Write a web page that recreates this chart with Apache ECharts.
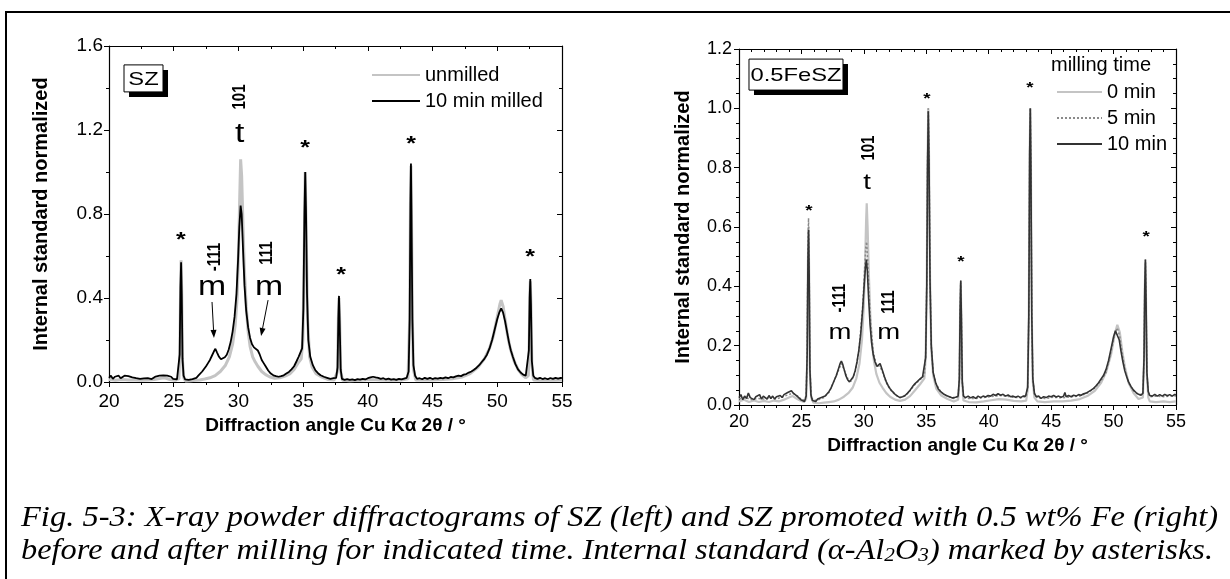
<!DOCTYPE html>
<html><head><meta charset="utf-8">
<script src="https://cdn.jsdelivr.net/npm/echarts@6/dist/echarts.min.js"></script>
<style>html,body{margin:0;padding:0;background:#fff;}#c{width:1230px;height:579px;}</style>
</head><body><div id="c"></div>
<script>
// ---------- DATA (2theta in degrees, internal standard normalized intensity) ----------
const szUnmilled = [[20,.012],[20.5,.008],[21,.012],[21.5,.01],[22,.01],[22.5,.008],[23,.01],[23.5,.012],[24,.018],[24.3,.02],[24.7,.012],[25.1,.008],[25.4,.015],[25.48,.15],[25.53,.45],[25.57,.58],[25.62,.42],[25.68,.1],[25.78,.02],[25.9,.005],[26.3,.006],[26.7,.008],[27.0,.01],[27.4,.014],[27.8,.02],[28.2,.03],[28.6,.05],[29.0,.08],[29.3,.12],[29.55,.18],[29.75,.27],[29.9,.4],[30.0,.6],[30.1,.88],[30.17,1.06],[30.25,.98],[30.35,.75],[30.45,.55],[30.6,.36],[30.75,.24],[30.9,.17],[31.1,.12],[31.3,.095],[31.5,.075],[31.8,.05],[32.1,.035],[32.4,.025],[32.8,.018],[33.2,.02],[33.6,.028],[34.0,.04],[34.3,.06],[34.6,.09],[34.85,.11],[34.98,.2],[35.08,.6],[35.16,1.0],[35.24,.7],[35.34,.3],[35.5,.12],[35.7,.07],[36.0,.04],[36.4,.025],[36.9,.012],[37.4,.01],[37.65,.05],[37.72,.3],[37.77,.4],[37.82,.3],[37.9,.05],[38.05,.008],[38.6,.006],[39.4,.008],[40.2,.012],[41.0,.01],[41.8,.008],[42.6,.01],[43.1,.015],[43.23,.3],[43.29,.85],[43.33,1.03],[43.37,.8],[43.44,.3],[43.52,.06],[43.7,.01],[44.3,.01],[45.0,.01],[45.8,.012],[46.6,.016],[47.3,.024],[47.9,.04],[48.5,.07],[49.0,.11],[49.4,.16],[49.7,.22],[50.0,.31],[50.2,.37],[50.3,.39],[50.45,.36],[50.6,.3],[50.8,.22],[51.0,.16],[51.3,.1],[51.6,.06],[51.9,.035],[52.2,.02],[52.4,.03],[52.47,.2],[52.52,.42],[52.55,.48],[52.6,.37],[52.67,.08],[52.8,.01],[53.2,.008],[53.8,.01],[54.4,.008],[55,.01]];

const szMilled10 = [[20.0,.02],[20.15,.03],[20.3,.015],[20.45,.025],[20.6,.02],[20.75,.03],[20.9,.018],[21.05,.025],[21.2,.03],[21.35,.038],[21.5,.028],[21.65,.033],[21.8,.022],[21.95,.028],[22.1,.018],[22.25,.024],[22.4,.015],[22.55,.022],[22.7,.017],[22.85,.025],[23.0,.018],[23.15,.022],[23.3,.014],[23.45,.02],[23.6,.026],[23.75,.02],[23.9,.03],[24.05,.026],[24.2,.032],[24.35,.025],[24.5,.03],[24.65,.022],[24.8,.025],[24.95,.015],[25.1,.018],[25.25,.012],[25.38,.02],[25.46,.13],[25.52,.45],[25.57,.57],[25.62,.42],[25.68,.11],[25.76,.03],[25.88,.012],[26.0,.018],[26.15,.01],[26.3,.016],[26.45,.014],[26.6,.022],[26.75,.02],[26.9,.03],[27.05,.035],[27.2,.05],[27.35,.058],[27.5,.075],[27.65,.09],[27.8,.105],[27.95,.125],[28.1,.145],[28.22,.158],[28.35,.14],[28.5,.12],[28.65,.108],[28.8,.11],[28.95,.118],[29.1,.13],[29.25,.155],[29.4,.19],[29.55,.24],[29.7,.31],[29.85,.42],[29.97,.58],[30.07,.74],[30.17,.84],[30.25,.8],[30.35,.64],[30.47,.46],[30.6,.34],[30.75,.26],[30.9,.21],[31.05,.18],[31.2,.165],[31.35,.158],[31.5,.15],[31.65,.13],[31.8,.105],[31.95,.09],[32.1,.075],[32.3,.055],[32.5,.04],[32.7,.032],[32.9,.028],[33.1,.025],[33.3,.028],[33.5,.032],[33.7,.04],[33.9,.048],[34.1,.06],[34.3,.075],[34.5,.1],[34.65,.12],[34.8,.125],[34.92,.16],[35.02,.35],[35.1,.8],[35.16,1.0],[35.22,.82],[35.3,.42],[35.4,.2],[35.55,.12],[35.75,.08],[35.95,.055],[36.15,.042],[36.35,.032],[36.6,.025],[36.85,.02],[37.1,.015],[37.35,.018],[37.55,.02],[37.66,.07],[37.72,.3],[37.77,.41],[37.82,.29],[37.9,.06],[38.0,.015],[38.2,.01],[38.4,.014],[38.6,.01],[38.8,.013],[39.0,.009],[39.2,.014],[39.4,.011],[39.6,.015],[39.8,.012],[40.0,.018],[40.2,.022],[40.4,.025],[40.6,.022],[40.8,.02],[41.0,.015],[41.2,.018],[41.4,.012],[41.6,.016],[41.8,.011],[42.0,.014],[42.2,.01],[42.4,.015],[42.6,.012],[42.8,.016],[43.0,.02],[43.15,.05],[43.23,.3],[43.29,.85],[43.33,1.04],[43.37,.8],[43.44,.3],[43.52,.08],[43.65,.03],[43.8,.015],[44.0,.018],[44.2,.013],[44.4,.02],[44.6,.015],[44.8,.02],[45.0,.014],[45.2,.019],[45.4,.016],[45.6,.02],[45.8,.017],[46.0,.022],[46.2,.018],[46.4,.024],[46.6,.022],[46.8,.027],[47.0,.03],[47.2,.028],[47.4,.035],[47.6,.038],[47.8,.045],[48.0,.05],[48.2,.058],[48.4,.068],[48.6,.08],[48.8,.095],[49.0,.11],[49.2,.13],[49.4,.16],[49.6,.2],[49.8,.25],[50.0,.3],[50.15,.33],[50.3,.35],[50.45,.33],[50.6,.29],[50.75,.24],[50.9,.19],[51.05,.15],[51.2,.12],[51.4,.085],[51.6,.06],[51.8,.045],[52.0,.035],[52.2,.03],[52.35,.035],[52.44,.15],[52.5,.4],[52.55,.49],[52.6,.37],[52.67,.1],[52.78,.03],[52.9,.02],[53.1,.015],[53.3,.02],[53.5,.014],[53.7,.018],[53.9,.013],[54.1,.019],[54.3,.015],[54.5,.02],[54.7,.016],[54.9,.02],[55.0,.018]];

const fe0min = [[20,.012],[20.4,.018],[20.8,.01],[21.2,.015],[21.6,.01],[22,.014],[22.4,.01],[22.8,.015],[23.2,.012],[23.6,.018],[24.0,.025],[24.3,.03],[24.6,.022],[24.9,.015],[25.2,.01],[25.38,.02],[25.46,.15],[25.52,.48],[25.57,.6],[25.62,.44],[25.68,.11],[25.78,.025],[25.95,.008],[26.4,.006],[26.8,.008],[27.2,.01],[27.6,.012],[28.0,.018],[28.4,.028],[28.8,.042],[29.1,.058],[29.4,.09],[29.65,.14],[29.85,.22],[30.0,.34],[30.1,.48],[30.18,.62],[30.23,.68],[30.3,.6],[30.4,.44],[30.52,.3],[30.65,.21],[30.8,.15],[31.0,.105],[31.25,.075],[31.5,.058],[31.8,.04],[32.1,.028],[32.5,.018],[32.9,.014],[33.3,.018],[33.7,.03],[34.1,.05],[34.5,.07],[34.85,.09],[34.95,.16],[35.04,.42],[35.1,.82],[35.16,1.0],[35.22,.84],[35.3,.43],[35.4,.19],[35.55,.1],[35.8,.055],[36.2,.032],[36.7,.02],[37.2,.012],[37.55,.018],[37.65,.08],[37.71,.31],[37.76,.41],[37.81,.29],[37.88,.07],[37.98,.015],[38.4,.01],[39.0,.009],[39.6,.012],[40.2,.016],[40.8,.02],[41.4,.018],[42.0,.014],[42.6,.012],[43.0,.015],[43.12,.05],[43.21,.3],[43.28,.85],[43.33,1.0],[43.38,.8],[43.45,.3],[43.53,.08],[43.66,.025],[43.9,.012],[44.5,.01],[45.2,.012],[45.9,.012],[46.6,.015],[47.3,.02],[47.9,.03],[48.5,.048],[49.0,.075],[49.4,.11],[49.8,.17],[50.1,.24],[50.3,.27],[50.5,.245],[50.7,.18],[50.9,.13],[51.2,.075],[51.6,.04],[52.0,.02],[52.35,.025],[52.44,.15],[52.5,.39],[52.55,.48],[52.6,.35],[52.67,.1],[52.78,.025],[52.9,.012],[53.4,.01],[54.0,.012],[54.5,.01],[55.0,.012]];

const fe5min = [[20,.02],[20.5,.025],[21,.018],[21.5,.022],[22,.02],[22.5,.025],[23,.02],[23.5,.028],[24,.035],[24.3,.04],[24.7,.03],[25.1,.015],[25.38,.03],[25.46,.18],[25.52,.52],[25.57,.63],[25.62,.47],[25.68,.13],[25.78,.03],[25.95,.015],[26.4,.018],[26.8,.025],[27.2,.042],[27.6,.08],[27.95,.115],[28.2,.14],[28.45,.115],[28.75,.085],[29.0,.08],[29.3,.11],[29.6,.18],[29.9,.33],[30.05,.45],[30.15,.53],[30.22,.55],[30.3,.49],[30.42,.37],[30.55,.27],[30.75,.18],[31.0,.135],[31.3,.13],[31.5,.11],[31.8,.075],[32.1,.052],[32.5,.035],[32.9,.025],[33.3,.03],[33.7,.048],[34.1,.07],[34.5,.085],[34.85,.1],[34.95,.17],[35.04,.42],[35.1,.82],[35.16,1.0],[35.22,.84],[35.3,.43],[35.4,.2],[35.55,.11],[35.8,.07],[36.2,.042],[36.7,.03],[37.2,.022],[37.55,.028],[37.65,.09],[37.71,.32],[37.76,.42],[37.81,.3],[37.88,.08],[37.98,.025],[38.4,.022],[39.0,.022],[39.6,.025],[40.2,.028],[40.8,.032],[41.4,.03],[42.0,.026],[42.6,.024],[43.0,.028],[43.12,.06],[43.21,.3],[43.28,.85],[43.33,1.0],[43.38,.8],[43.45,.3],[43.53,.09],[43.66,.035],[43.9,.024],[44.5,.022],[45.2,.026],[45.9,.024],[46.6,.028],[47.3,.03],[47.9,.04],[48.5,.058],[49.0,.082],[49.4,.11],[49.8,.18],[50.1,.24],[50.3,.26],[50.5,.23],[50.7,.17],[50.9,.12],[51.2,.075],[51.6,.048],[52.0,.034],[52.35,.038],[52.44,.16],[52.5,.4],[52.55,.49],[52.6,.36],[52.67,.11],[52.78,.04],[52.9,.028],[53.4,.03],[54.0,.028],[54.5,.03],[55.0,.03]];

const fe10min = [[20.0,.025],[20.15,.035],[20.3,.018],[20.45,.03],[20.6,.022],[20.75,.04],[20.9,.025],[21.05,.03],[21.2,.018],[21.35,.028],[21.5,.022],[21.65,.035],[21.8,.02],[21.95,.03],[22.1,.024],[22.25,.02],[22.4,.032],[22.55,.022],[22.7,.03],[22.85,.02],[23.0,.028],[23.15,.024],[23.3,.032],[23.45,.025],[23.6,.035],[23.75,.03],[23.9,.042],[24.05,.038],[24.2,.048],[24.35,.04],[24.5,.038],[24.65,.03],[24.8,.028],[24.95,.018],[25.1,.015],[25.25,.012],[25.38,.03],[25.46,.17],[25.52,.48],[25.57,.59],[25.62,.44],[25.68,.12],[25.76,.035],[25.88,.015],[26.0,.02],[26.15,.012],[26.3,.02],[26.45,.018],[26.6,.025],[26.75,.022],[26.9,.03],[27.05,.035],[27.2,.045],[27.35,.055],[27.5,.07],[27.65,.085],[27.8,.1],[27.95,.12],[28.1,.14],[28.2,.148],[28.3,.138],[28.42,.12],[28.55,.1],[28.7,.085],[28.85,.078],[29.0,.082],[29.15,.095],[29.3,.115],[29.45,.145],[29.6,.185],[29.75,.24],[29.9,.32],[30.02,.4],[30.12,.46],[30.2,.49],[30.28,.45],[30.38,.36],[30.5,.27],[30.62,.21],[30.75,.17],[30.9,.145],[31.05,.13],[31.2,.128],[31.3,.14],[31.38,.13],[31.5,.115],[31.65,.095],[31.8,.078],[31.95,.065],[32.1,.055],[32.3,.045],[32.5,.036],[32.7,.03],[32.9,.025],[33.1,.028],[33.3,.032],[33.5,.04],[33.7,.05],[33.9,.062],[34.1,.072],[34.3,.08],[34.5,.088],[34.7,.095],[34.85,.1],[34.95,.16],[35.04,.4],[35.1,.8],[35.16,.99],[35.22,.82],[35.3,.42],[35.4,.2],[35.55,.11],[35.75,.075],[35.95,.055],[36.15,.045],[36.35,.038],[36.6,.032],[36.85,.028],[37.1,.024],[37.35,.026],[37.55,.03],[37.65,.09],[37.71,.32],[37.76,.42],[37.81,.3],[37.88,.08],[37.98,.03],[38.15,.025],[38.35,.03],[38.55,.024],[38.75,.028],[38.95,.022],[39.15,.03],[39.35,.025],[39.55,.03],[39.75,.027],[39.95,.032],[40.15,.03],[40.35,.036],[40.55,.032],[40.75,.038],[40.95,.033],[41.15,.036],[41.35,.03],[41.55,.034],[41.75,.028],[41.95,.03],[42.15,.026],[42.35,.03],[42.55,.025],[42.75,.03],[42.95,.03],[43.12,.06],[43.21,.3],[43.28,.85],[43.33,1.0],[43.38,.8],[43.45,.3],[43.53,.09],[43.66,.04],[43.8,.028],[44.0,.03],[44.2,.022],[44.4,.028],[44.6,.025],[44.8,.03],[45.0,.028],[45.2,.032],[45.4,.027],[45.6,.03],[45.8,.026],[46.0,.03],[46.1,.042],[46.2,.028],[46.4,.032],[46.6,.028],[46.8,.033],[47.0,.03],[47.2,.035],[47.4,.033],[47.6,.038],[47.8,.04],[48.0,.045],[48.2,.05],[48.4,.056],[48.6,.065],[48.8,.075],[49.0,.088],[49.2,.1],[49.4,.12],[49.6,.15],[49.8,.19],[50.0,.23],[50.15,.25],[50.3,.245],[50.45,.22],[50.6,.18],[50.75,.145],[50.9,.115],[51.05,.095],[51.2,.078],[51.4,.062],[51.6,.05],[51.8,.042],[52.0,.036],[52.2,.033],[52.35,.04],[52.44,.16],[52.5,.4],[52.55,.49],[52.6,.36],[52.67,.11],[52.78,.045],[52.9,.032],[53.1,.03],[53.3,.036],[53.5,.03],[53.7,.035],[53.9,.03],[54.1,.036],[54.3,.031],[54.5,.035],[54.7,.03],[54.9,.036],[55.0,.033]];

// axis ranges / ticks
const xRange = [20, 55];
const xStep = 5;
const szYRange = [0, 1.6];
const szYStep = 0.4;
const feYRange = [0, 1.2];
const feYStep = 0.2;

// text
const xTitle = 'Diffraction angle Cu K\u03b1 2\u03b8 / \u00b0';
const yTitle = 'Internal standard normalized';
const szSeriesNames = ['unmilled', '10 min milled'];
const feSeriesNames = ['0 min', '5 min', '10 min'];
const szTag = 'SZ';
const feTag = '0.5FeSZ';
const feLegendTitle = 'milling time';
const caption1 = 'Fig. 5-3: X-ray powder diffractograms of SZ (left) and SZ promoted with 0.5 wt% Fe (right)';
const caption2Parts = ['before and after milling for indicated time. Internal standard (\u03b1-Al', '2', 'O', '3', ') marked by asterisks.'];

// annotations in data coordinates [x, y]
const szStars = [[25.56,.676],[35.15,1.114],[37.93,.505],[43.34,1.133],[52.53,.595]];
const szPhase = [['t',30.1,1.176],['m',27.96,.448],['m',32.36,.452]];
const szHkl = [['101',30.1,1.357],['-111',28.18,.595],['111',32.21,.614]];
const szArrows = [[27.96,.381,28.11,.21],[32.29,.39,31.75,.219]];
const szTagPos = [21.16, 1.51];
const feStars = [[25.6,.654],[35.05,1.031],[37.77,.482],[43.3,1.068],[52.6,.566]];
const fePhase = [['t',30.25,.748],['m',28.08,.243],['m',32.0,.243]];
const feHkl = [['101',30.4,.866],['-111',28.08,.36],['111',32.0,.347]];
const feTagPos = [20.8, 1.166];

// ---------- CHART ----------
const FONT = 'Liberation Sans';
const SERIF = 'Liberation Serif';
const SX = 1.25; // horizontal stretch of the source figure's lettering
const chart = echarts.init(document.getElementById('c'), null, {renderer: 'canvas'});

function xAxisCfg(grid, top, labelSize, minorSplit, margin, nameGap) {
  return {
    gridIndex: grid, type: 'value', min: xRange[0], max: xRange[1], interval: xStep,
    position: top ? 'top' : 'bottom',
    axisLine: {onZero: false, lineStyle: {color: '#000', width: 1.2}},
    axisTick: {show: true, inside: top, length: 5, lineStyle: {color: '#000', width: 1}},
    minorTick: {show: true, splitNumber: minorSplit, length: 3, lineStyle: {color: '#000', width: 1}},
    axisLabel: {show: !top, fontSize: labelSize, color: '#000', fontFamily: FONT, margin: margin},
    splitLine: {show: false}, minorSplitLine: {show: false},
    name: top ? '' : xTitle, nameLocation: 'middle', nameGap: nameGap,
    nameTextStyle: {fontSize: 19, fontWeight: 'bold', color: '#000', fontFamily: FONT}
  };
}
function yAxisCfg(grid, right, range, step, labelSize, minorSplit, margin, nameGap) {
  return {
    gridIndex: grid, type: 'value', min: range[0], max: range[1], interval: step,
    position: right ? 'right' : 'left',
    axisLine: {show: true, onZero: false, lineStyle: {color: '#000', width: 1.2}},
    axisTick: {show: true, inside: right, length: 5, lineStyle: {color: '#000', width: 1}},
    minorTick: {show: true, splitNumber: minorSplit, length: 3, lineStyle: {color: '#000', width: 1}},
    axisLabel: {show: !right, fontSize: labelSize, color: '#000', fontFamily: FONT, margin: margin,
                formatter: v => v.toFixed(1)},
    splitLine: {show: false}, minorSplitLine: {show: false},
    name: right ? '' : yTitle, nameLocation: 'middle', nameGap: nameGap, nameRotate: 90,
    nameTextStyle: {fontSize: 20, fontWeight: 'bold', color: '#000', fontFamily: FONT}
  };
}
function line(name, data, xi, yi, color, width, type, z) {
  return {name, type: 'line', data, xAxisIndex: xi, yAxisIndex: yi, showSymbol: false, symbol: 'none',
          lineStyle: {color, width, type}, itemStyle: {color}, z, animation: false, clip: true};
}

chart.setOption({
  animation: false,
  backgroundColor: '#fff',
  grid: [
    {left: 109, top: 46, width: 453, height: 336},
    {left: 739, top: 49, width: 437, height: 356}
  ],
  xAxis: [
    xAxisCfg(0, false, 19, 2, 10, 31), xAxisCfg(0, true, 19, 2, 10, 0),
    xAxisCfg(1, false, 18, 5, 8, 31), xAxisCfg(1, true, 18, 5, 8, 0)
  ],
  yAxis: [
    yAxisCfg(0, false, szYRange, szYStep, 19, 2, 6, 58), yAxisCfg(0, true, szYRange, szYStep, 19, 2, 6, 0),
    yAxisCfg(1, false, feYRange, feYStep, 18, 4, 7, 46), yAxisCfg(1, true, feYRange, feYStep, 18, 4, 7, 0)
  ],
  legend: [
    {data: szSeriesNames, orient: 'vertical', left: 366, top: 60, itemWidth: 48, itemHeight: 14, itemGap: 6,
     itemStyle: {opacity: 0, borderWidth: 0},
     textStyle: {fontSize: 20, color: '#000', fontFamily: FONT}, selectedMode: false},
    {data: feSeriesNames, orient: 'vertical', left: 1051, top: 77, itemWidth: 45, itemHeight: 14, itemGap: 6,
     itemStyle: {opacity: 0, borderWidth: 0},
     textStyle: {fontSize: 20, color: '#000', fontFamily: FONT}, selectedMode: false}
  ],
  series: [
    line(szSeriesNames[0], szUnmilled, 0, 0, '#c4c4c4', 3, 'solid', 2),
    line(szSeriesNames[1], szMilled10, 0, 0, '#000', 1.8, 'solid', 3),
    line(feSeriesNames[0], fe0min, 2, 2, '#c4c4c4', 2.2, 'solid', 2),
    line(feSeriesNames[1], fe5min, 2, 2, '#8a8a8a', 1.5, [2, 2], 3),
    line(feSeriesNames[2], fe10min, 2, 2, '#333', 1.6, 'solid', 4)
  ]
});

function px(g, x, y) { return chart.convertToPixel({xAxisIndex: g * 2, yAxisIndex: g * 2}, [x, y]); }

const gfx = [];
// figure frame
gfx.push({type: 'line', shape: {x1: 6, y1: 12, x2: 1230, y2: 12}, style: {stroke: '#000', lineWidth: 2}, silent: true});
gfx.push({type: 'line', shape: {x1: 6, y1: 11, x2: 6, y2: 579}, style: {stroke: '#000', lineWidth: 2}, silent: true});

function txt(p, s, size, bold, rot, sx) {
  return {type: 'text', x: p[0], y: p[1], rotation: rot ? Math.PI / 2 : 0,
          scaleX: rot ? 1 : (sx || 1), scaleY: rot ? (sx || 1) : 1, z: 50,
          style: {text: s, fontSize: size, fontWeight: bold ? 'bold' : 'normal', fontFamily: FONT,
                  fill: '#000', align: 'center', verticalAlign: 'middle'}, silent: true};
}
function arrow(g, a) {
  const p1 = px(g, a[0], a[1]), p2 = px(g, a[2], a[3]);
  const dx = p2[0] - p1[0], dy = p2[1] - p1[1], L = Math.hypot(dx, dy), ux = dx / L, uy = dy / L;
  const hl = 8, hw = 3;
  const bx = p2[0] - ux * hl, by = p2[1] - uy * hl;
  gfx.push({type: 'line', shape: {x1: p1[0], y1: p1[1], x2: bx, y2: by}, style: {stroke: '#000', lineWidth: 1}, z: 50, silent: true});
  gfx.push({type: 'polygon', shape: {points: [[p2[0], p2[1]], [bx - uy * hw, by + ux * hw], [bx + uy * hw, by - ux * hw]]},
            style: {fill: '#000'}, z: 50, silent: true});
}
function tagBox(g, pos, s, w, h, size) {
  const p = px(g, pos[0], pos[1]);
  gfx.push({type: 'rect', shape: {x: p[0] + 5, y: p[1] + 5, width: w, height: h}, style: {fill: '#000'}, z: 40, silent: true});
  gfx.push({type: 'rect', shape: {x: p[0], y: p[1], width: w, height: h}, style: {fill: '#fff', stroke: '#000', lineWidth: 1}, z: 41, silent: true});
  gfx.push(txt([p[0] + w / 2, p[1] + h / 2 + 1], s, size, false, false, SX));
}

szStars.forEach(s => gfx.push(txt(px(0, s[0], s[1]), '*', 20, true, false, SX)));
szPhase.forEach(s => gfx.push(txt(px(0, s[1], s[2]), s[0], 27, false, false, SX)));
szHkl.forEach(s => gfx.push(txt(px(0, s[1], s[2]), s[0], 15, true, true, SX)));
szArrows.forEach(a => arrow(0, a));
tagBox(0, szTagPos, szTag, 39, 27, 19);

feStars.forEach(s => gfx.push(txt(px(1, s[0], s[1]), '*', 15, true, false, SX)));
fePhase.forEach(s => gfx.push(txt(px(1, s[1], s[2]), s[0], 22, false, false, SX)));
feHkl.forEach(s => gfx.push(txt(px(1, s[1], s[2]), s[0], 15, true, true, SX)));
tagBox(1, feTagPos, feTag, 94, 31, 19);

// legend title for right panel
gfx.push({type: 'text', x: 1051, y: 65, z: 50, silent: true,
          style: {text: feLegendTitle, fontSize: 20, fontFamily: FONT, fill: '#000', align: 'left', verticalAlign: 'middle'}});

// caption (justified to the figure width by horizontal scaling)
const cv = document.createElement('canvas').getContext('2d');
const capFont = 29, subFont = 19;
cv.font = 'italic ' + capFont + 'px ' + SERIF;
const w1 = cv.measureText(caption1).width;
let w2 = cv.measureText(caption2Parts[0] + caption2Parts[2] + caption2Parts[4]).width;
cv.font = 'italic ' + subFont + 'px ' + SERIF;
w2 += cv.measureText(caption2Parts[1] + caption2Parts[3]).width;
const capStyle = {fontSize: capFont, fontStyle: 'italic', fontFamily: SERIF, fill: '#000', align: 'left', verticalAlign: 'middle'};
gfx.push({type: 'text', x: 21, y: 518, scaleX: (1218 - 21) / w1, silent: true, style: Object.assign({text: caption1}, capStyle)});
gfx.push({type: 'text', x: 21, y: 551, scaleX: (1213 - 21) / w2, silent: true,
  style: Object.assign({}, capStyle, {
    text: caption2Parts[0] + '{s|' + caption2Parts[1] + '}' + caption2Parts[2] + '{s|' + caption2Parts[3] + '}' + caption2Parts[4],
    rich: {s: {fontSize: subFont, fontStyle: 'italic', fontFamily: SERIF, verticalAlign: 'bottom', padding: [10, 0, 0, 0]}}
  })});

chart.setOption({graphic: gfx});
</script></body></html>
